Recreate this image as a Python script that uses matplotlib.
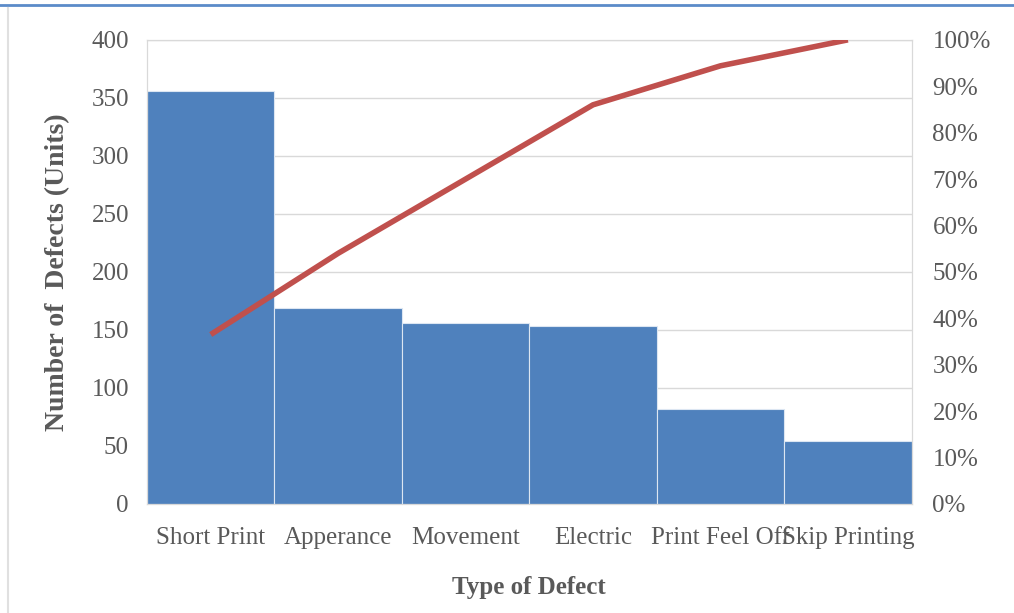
import matplotlib
matplotlib.use("Agg")
import matplotlib.pyplot as plt
from matplotlib.lines import Line2D
from matplotlib.ticker import PercentFormatter

categories = ["Short Print", "Apperance", "Movement", "Electric", "Print Feel Off", "Skip Printing"]
defects = [356, 169, 156, 153, 82, 54]
cumulative_pct = [36.5, 54.0, 70.0, 86.0, 94.4, 100.0]
left_ticks = [0, 50, 100, 150, 200, 250, 300, 350, 400]
right_ticks = [0, 10, 20, 30, 40, 50, 60, 70, 80, 90, 100]

plt.rcParams['font.family'] = ['Liberation Serif', 'DejaVu Serif']

fig = plt.figure(figsize=(10.14, 6.13), dpi=100)
ax = fig.add_axes([0.145, 0.178, 0.754, 0.757])
x = list(range(len(categories)))
ax.bar(x, defects, width=1.0, color="#4F81BD", edgecolor="#DCE6F2", linewidth=0.8, zorder=2)
ax.set_xlim(-0.5, len(categories) - 0.5)
ax.set_ylim(0, 400)
ax.set_yticks(left_ticks)
ax.set_xticks(x)
ax.set_xticklabels(categories)
ax.grid(axis="y", color="#D9D9D9", linewidth=1, zorder=0)
ax.set_axisbelow(True)
for s in ["left", "right", "top", "bottom"]:
    ax.spines[s].set_color("#D9D9D9")
ax.tick_params(axis="both", length=0, labelsize=18, labelcolor="#595959")
ax.tick_params(axis="y", pad=13)
ax.tick_params(axis="x", pad=17)
ax.set_ylabel("Number of  Defects (Units)", fontsize=20, fontweight="bold", color="#595959")
ax.yaxis.set_label_coords(-0.1176, 0.5)
ax.yaxis.label.set_va("center")
ax.set_xlabel("Type of Defect", fontsize=18, fontweight="bold", color="#595959")
ax.xaxis.set_label_coords(0.5, -0.181)
ax.xaxis.label.set_va("center")

ax2 = ax.twinx()
ax2.plot(x, cumulative_pct, color="#C0504D", linewidth=4, solid_capstyle="butt", zorder=3)
ax2.set_ylim(0, 100)
ax2.set_yticks(right_ticks)
ax2.yaxis.set_major_formatter(PercentFormatter(decimals=0))
ax2.tick_params(axis="y", length=0, labelsize=18, labelcolor="#595959", pad=15)
for s in ["left", "right", "top", "bottom"]:
    ax2.spines[s].set_color("#D9D9D9")

fig.add_artist(Line2D([0, 1], [1 - 5 / 613, 1 - 5 / 613], transform=fig.transFigure, color="#5B8BC9", linewidth=2))
fig.add_artist(Line2D([8 / 1014, 8 / 1014], [0, 1 - 8 / 613], transform=fig.transFigure, color="#E0E0E0", linewidth=1.5))

fig.savefig("out.png", dpi=100)
